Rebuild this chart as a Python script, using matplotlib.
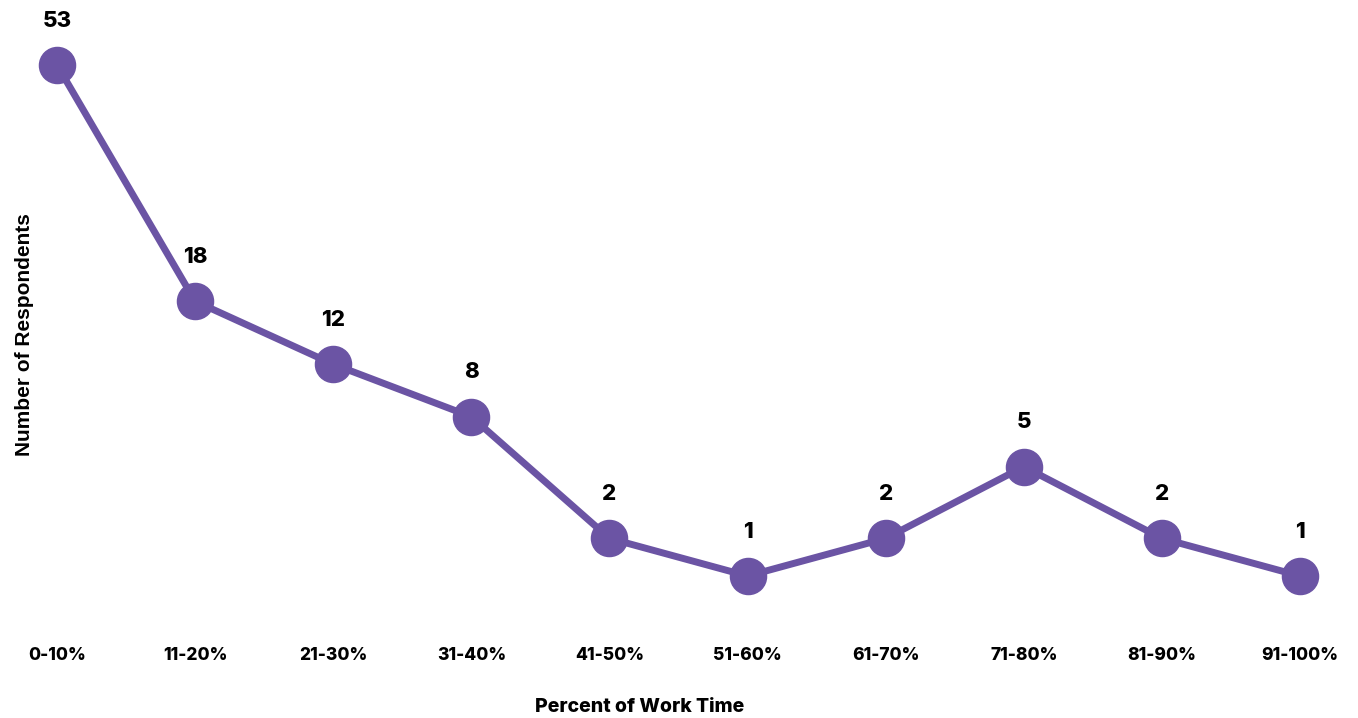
import numpy as np
import matplotlib.pyplot as plt

# data
categories = ["0-10%", "11-20%", "21-30%", "31-40%", "41-50%",
              "51-60%", "61-70%", "71-80%", "81-90%", "91-100%"]
respondents = [53, 18, 12, 8, 2, 1, 2, 5, 2, 1]

PURPLE = "#6b54a4"
POW = 0.45
FONT = ["Inter", "DejaVu Sans"]

fig = plt.figure(figsize=(13.58, 7.18), dpi=100)
W, H = 1358, 718
# axes spans from first to last point (x) and from value 1 to value 53 (y)
ax = fig.add_axes([57 / W, 1 - 576 / H, (1300 - 57) / W, (576 - 65) / H])

ax.set_yscale("function", functions=(lambda v: np.power(np.clip(v, 0, None), POW),
                                     lambda v: np.power(np.clip(v, 0, None), 1 / POW)))
x = np.arange(len(categories))
ax.plot(x, respondents, color=PURPLE, linewidth=5, marker="o", markersize=26,
        clip_on=False, solid_capstyle="round")
ax.set_xlim(0, len(categories) - 1)
ax.set_ylim(1, 53)

for xi, v in zip(x, respondents):
    ax.annotate(str(v), (xi, v), xytext=(0, 32), textcoords="offset points",
                ha="center", va="center", fontsize=16, fontweight=800,
                family=FONT, color="black")

ax.set_xticks(x)
ax.set_xticklabels(categories, fontsize=12.5, fontweight=800, family=FONT)
ax.tick_params(axis="x", length=0, pad=51)
ax.set_yticks([])
for s in ax.spines.values():
    s.set_visible(False)

fig.text(640 / W, 1 - 707 / H, "Percent of Work Time", ha="center", va="center",
         fontsize=14, fontweight=800, family=FONT)
fig.text(25 / W, 1 - 335 / H, "Number of Respondents", ha="center", va="center",
         rotation=90, fontsize=15, fontweight="bold", family=["Liberation Sans", "DejaVu Sans"])

fig.savefig("out.png", dpi=100)
